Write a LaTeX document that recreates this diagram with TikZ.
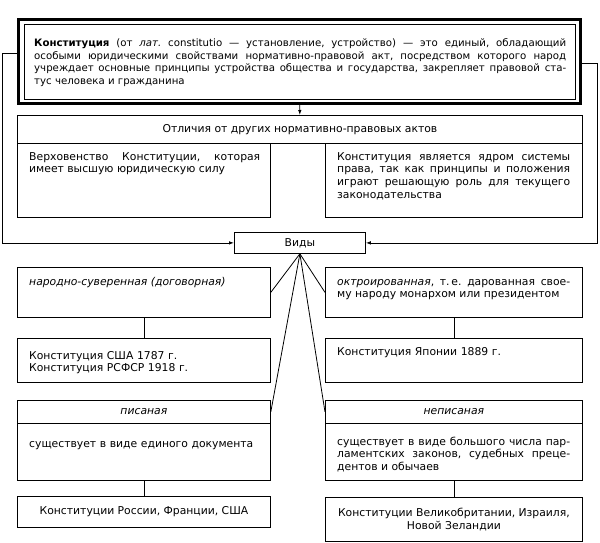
\documentclass[tikz,border=0pt]{standalone}
\usepackage{fontspec}
\setmainfont{DejaVu Sans}
\frenchspacing
\usetikzlibrary{arrows.meta}

\begin{document}
\begin{tikzpicture}[x=1pt, y=-1pt,
  box/.style={draw, line width=0.8pt, anchor=north west, inner sep=0pt,
    font=\fontsize{10.8}{12.8}\selectfont, align=center},
  txt/.style={anchor=north west, inner sep=0pt, align=justify,
    font=\fontsize{10.8}{12.8}\selectfont},
  link/.style={line width=0.8pt},
  arrow/.style={line width=0.8pt, -{Latex[length=5pt, width=3.5pt]}}]
  \useasboundingbox (0,0) rectangle (600,543);

  % definition
  \node[box, line width=3pt, minimum width=562pt, minimum height=84pt] (defn) at (17,18) {};
  \draw[link] ([shift={(7,6)}]defn.north west) rectangle ([shift={(-7,-6)}]defn.south east);
  \node[txt, text width=532pt, font=\fontsize{10.2}{12.5}\selectfont] (defntext) at ([shift={(17,20)}]defn.north west)
    {\strut\textbf{Конституция} (от \textit{лат.} constitutio — установление, устройство) — это единый, обладающий\linebreak
     особыми юридическими свойствами нормативно-правовой акт, посредством которого народ\linebreak
     учреждает основные принципы устройства общества и государства, закрепляет правовой ста-\linebreak
     тус человека и гражданина};

  % differences
  \node[box, minimum width=565pt, minimum height=28pt] (diff) at (17,115) {Отличия от других нормативно-правовых актов};
  \node[box, minimum width=253pt, minimum height=74pt] (supreme) at (17,143) {};
  \node[box, minimum width=257pt, minimum height=74pt] (core) at (325,143) {};
  \node[txt, text width=231pt] at ([shift={(12,8)}]supreme.north west)
    {\strut Верховенство Конституции, которая\linebreak имеет высшую юридическую силу};
  \node[txt, text width=233pt] at ([shift={(12,8)}]core.north west)
    {\strut Конституция является ядром системы\linebreak
     права, так как принципы и положения\linebreak
     играют решающую роль для текущего\linebreak законодательства};
  \draw[arrow] (defn) -- (diff);

  % types
  \node[box, minimum width=131pt, minimum height=21pt] (types) at (234,232) {Виды};
  \draw[arrow] ([shift={(0,35)}]defn.north west) -- ++(-15,0) |- (types);
  \draw[arrow] ([shift={(0,45)}]defn.north east) -- ++(15,0) |- (types);

  \node[box, minimum width=253pt, minimum height=50pt] (folk) at (17,267) {};
  \node[txt, text width=231pt] at ([shift={(12,9)}]folk.north west)
    {\strut\textit{народно-суверенная (договорная)}};
  \node[box, minimum width=257pt, minimum height=50pt] (granted) at (325,267) {};
  \node[txt, text width=233pt] at ([shift={(12,9)}]granted.north west)
    {\strut\textit{октроированная}, т.\,е. дарованная свое-\linebreak му народу монархом или президентом};

  \node[box, minimum width=253pt, minimum height=44pt] (folkex) at (17,338) {};
  \node[txt, text width=231pt, align=left] at ([shift={(12,12)}]folkex.north west)
    {\strut Конституция США 1787 г.\\ Конституция РСФСР 1918 г.};
  \node[box, minimum width=257pt, minimum height=44pt] (grantex) at (325,338) {};
  \node[txt, text width=233pt, align=left] at ([shift={(12,8)}]grantex.north west)
    {\strut Конституция Японии 1889 г.};

  \node[box, minimum width=253pt, minimum height=23pt] (written) at (17,400) {\textit{писаная}};
  \node[box, minimum width=253pt, minimum height=57pt] (writtenbody) at (17,423) {};
  \node[txt, text width=231pt, align=left] at ([shift={(12,15)}]writtenbody.north west)
    {\strut существует в виде единого документа};
  \node[box, minimum width=257pt, minimum height=23pt] (unwritten) at (325,400) {\textit{неписаная}};
  \node[box, minimum width=257pt, minimum height=57pt] (unwrittenbody) at (325,423) {};
  \node[txt, text width=233pt] at ([shift={(12,13)}]unwrittenbody.north west)
    {\strut существует в виде большого числа пар-\linebreak
     ламентских законов, судебных преце-\linebreak дентов и обычаев};

  \node[box, minimum width=253pt, minimum height=31pt] (writtenex) at (17,496) {Конституции России, Франции, США};
  \node[box, minimum width=257pt, minimum height=44pt] (unwrittenex) at (325,497)
    {Конституции Великобритании, Израиля,\\ Новой Зеландии};

  \draw[link] (types.south) -- (folk.east);
  \draw[link] (types.south) -- (granted.west);
  \draw[link] (types.south) -- (written.east);
  \draw[link] (types.south) -- (unwritten.west);
  \draw[link] (folk) -- (folkex);
  \draw[link] (granted) -- (grantex);
  \draw[link] (writtenbody) -- (writtenex);
  \draw[link] (unwrittenbody) -- (unwrittenex);
\end{tikzpicture}
\end{document}
